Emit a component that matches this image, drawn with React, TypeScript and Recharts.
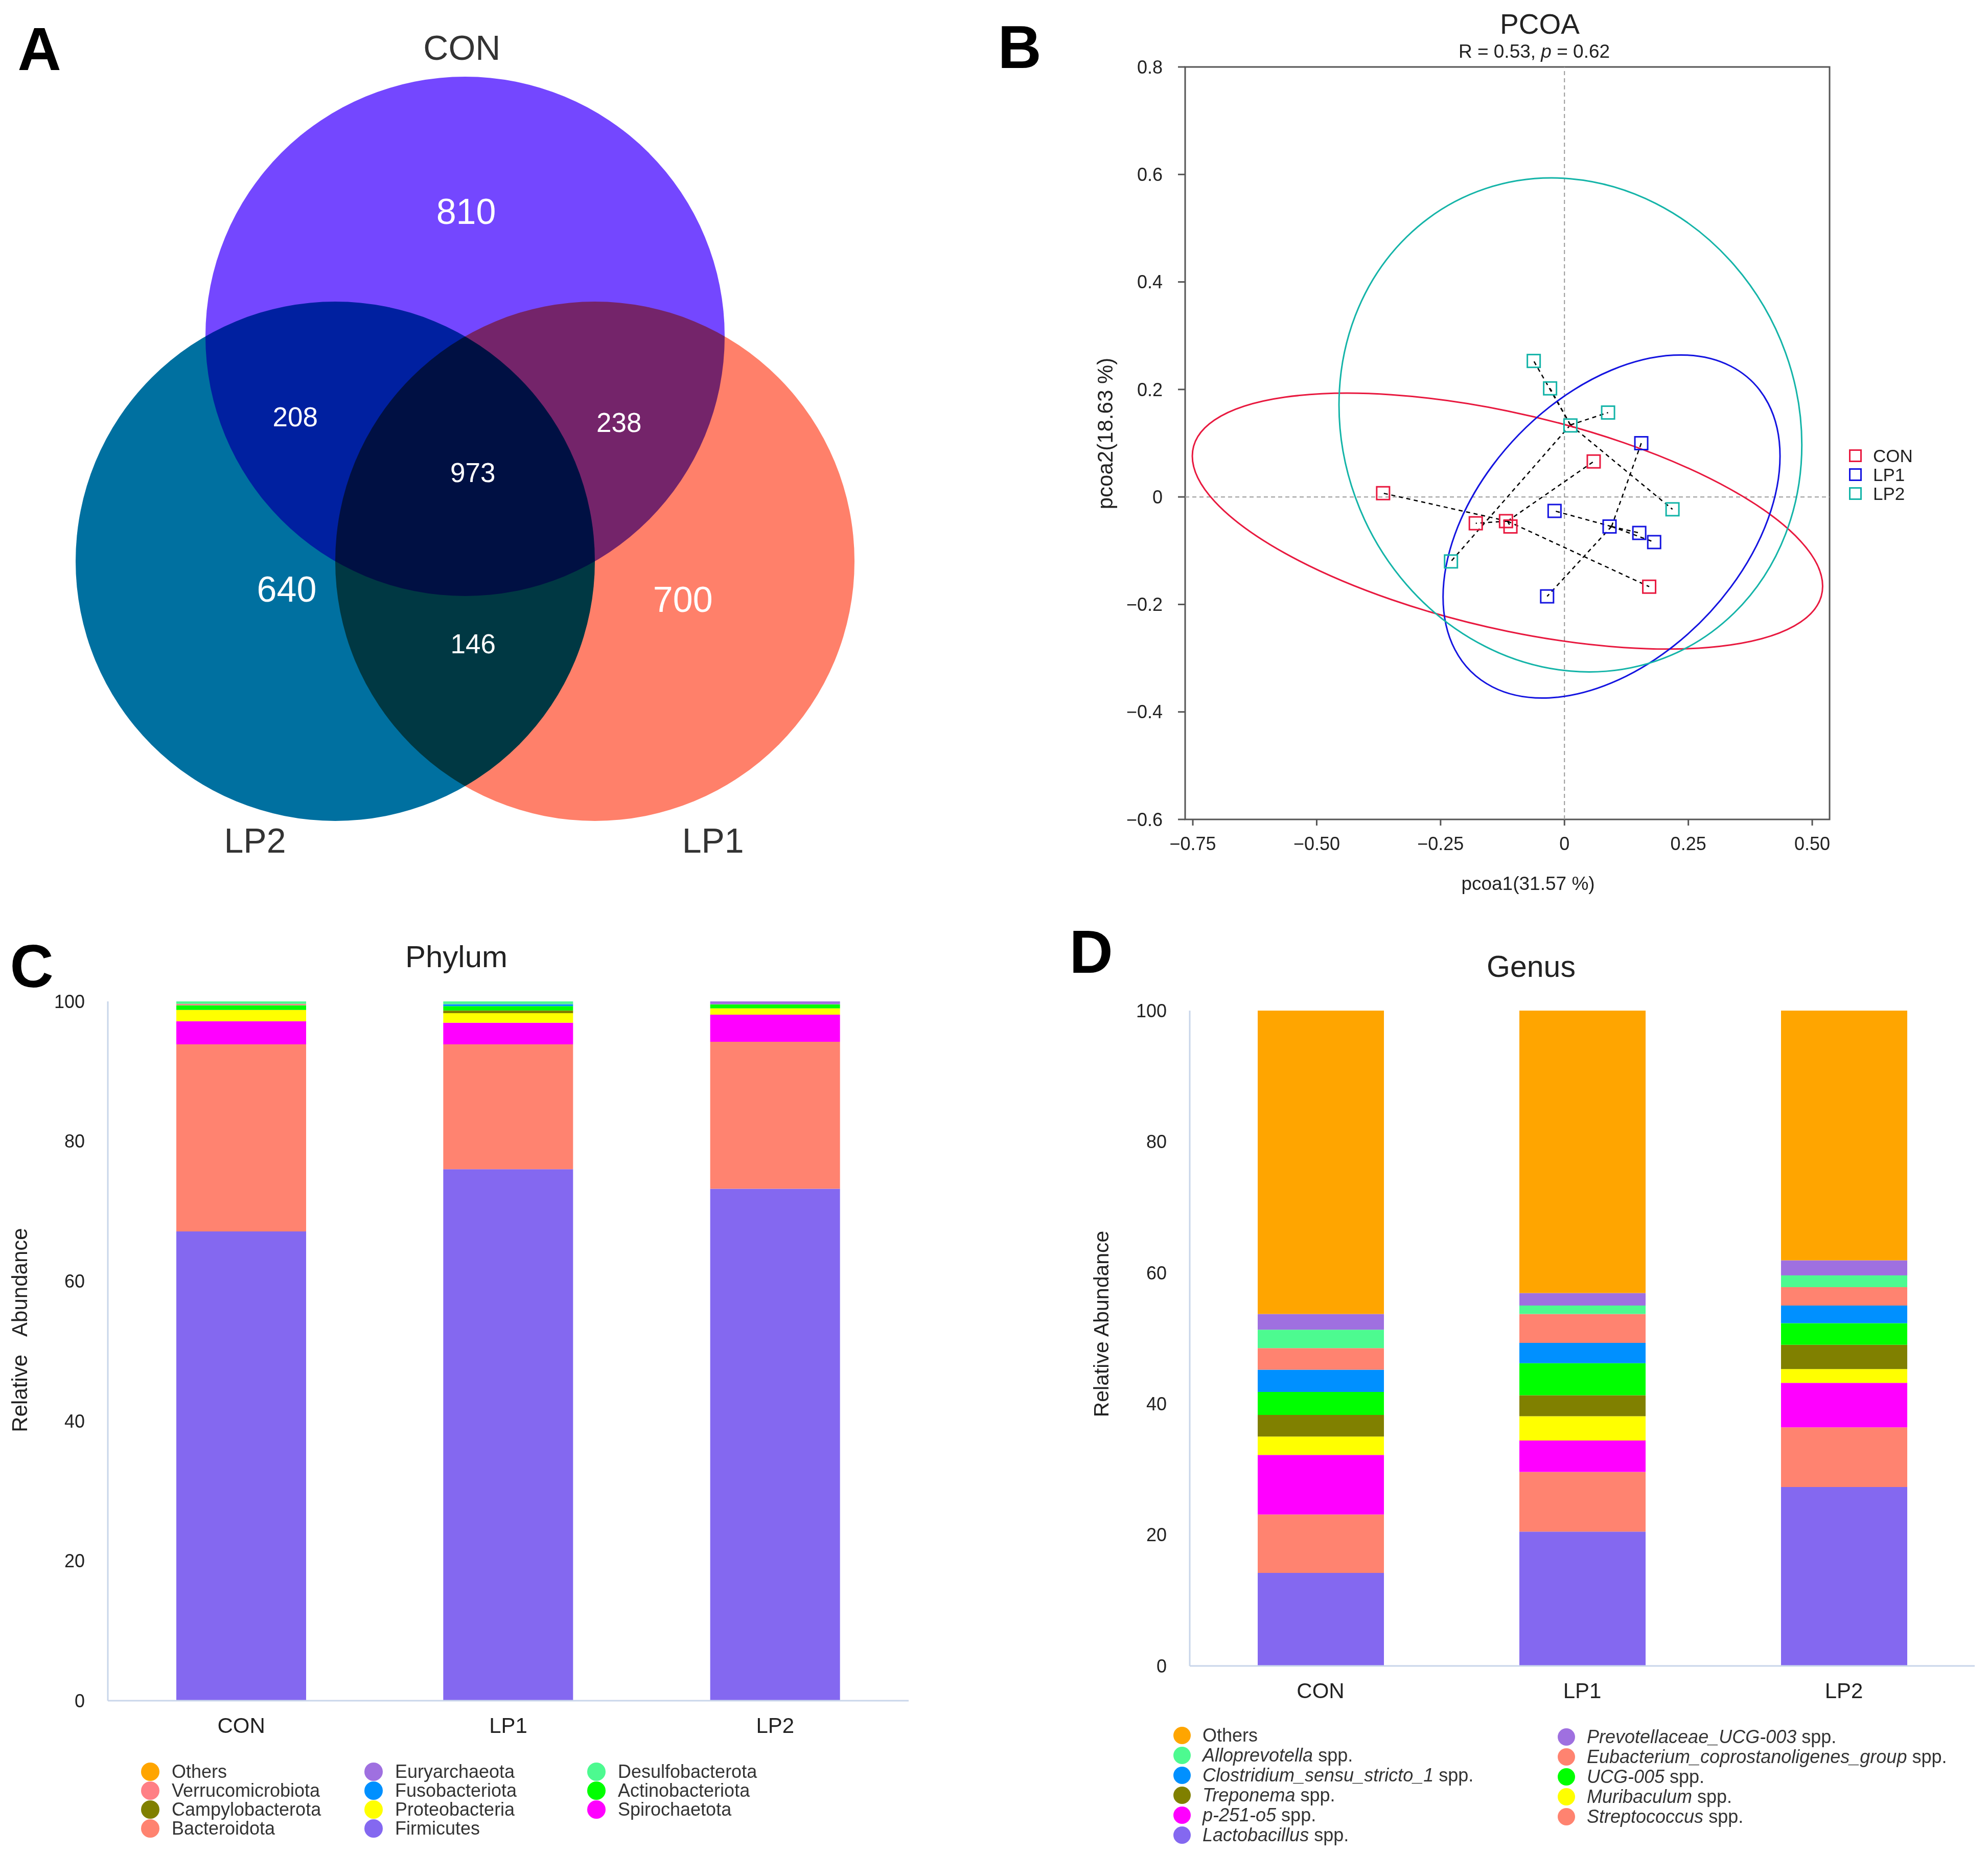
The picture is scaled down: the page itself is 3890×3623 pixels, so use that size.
import React from "react";
import {
  Bar,
  BarChart,
  ReferenceArea,
  ReferenceLine,
  Scatter,
  ScatterChart,
  XAxis,
  YAxis,
} from "recharts";

const FONT = '"Liberation Sans", Arial, Helvetica, sans-serif';

// ---------- A: Venn (units: circle radius = 1)
const vennSets = ["CON", "LP1", "LP2"];
const vennColors = ["#7447ff", "#ff806a", "#0070a0"];
const vennCenterX = [0, 0.5, -0.5];
const vennCenterY = [0.866, 0, 0];
const VENN_R = 1;
const vennOnly = [810, 700, 640];
const vennOnlyX = [0.004, 0.839, -0.687];
const vennOnlyY = [1.348, -0.146, -0.106];
// CON&LP1, CON&LP2, LP1&LP2, all three
const vennShared = [238, 208, 146, 973];
const vennSharedX = [0.593, -0.654, 0.031, 0.03];
const vennSharedY = [0.535, 0.557, -0.317, 0.343];
const vennNameX = [-0.012, 0.955, -0.809];
const vennNameY = [1.98, -1.073, -1.073];

// ---------- B: PCoA
const pcoaGroups = ["CON", "LP1", "LP2"];
const pcoaColors = ["#e8193f", "#1414e0", "#14b4a8"];
const conPts = [[-0.366, 0.007], [-0.179, -0.049], [-0.118, -0.045], [-0.109, -0.055], [0.059, 0.066], [0.171, -0.167]];
const lp1Pts = [[0.155, 0.1], [-0.02, -0.026], [0.091, -0.055], [0.151, -0.067], [0.181, -0.084], [-0.035, -0.185]];
const lp2Pts = [[-0.062, 0.253], [-0.029, 0.202], [0.088, 0.157], [0.012, 0.133], [0.218, -0.023], [-0.229, -0.12]];
const pcoaPts = [conPts, lp1Pts, lp2Pts];
// confidence ellipses: centre, rightmost point, point straight above the centre
const ellipseCenter = [[-0.115, -0.045], [0.095, -0.055], [0.012, 0.134]];
const ellipseRight = [[0.521, -0.166], [0.435, 0.076], [0.479, 0.097]];
const ellipseTop = [0.16, 0.236, 0.592];
const pcoaXTicks = [-0.75, -0.5, -0.25, 0, 0.25, 0.5];
const pcoaYTicks = [-0.6, -0.4, -0.2, 0, 0.2, 0.4, 0.6, 0.8];

// ---------- C / D: stacked bars
const groups = ["CON", "LP1", "LP2"];
const pctTicks = [0, 20, 40, 60, 80, 100];

// phylum, bottom -> top
const phylumNames = ["Firmicutes", "Bacteroidota", "Spirochaetota", "Proteobacteria", "Campylobacterota", "Actinobacteriota", "Fusobacteriota", "Verrucomicrobiota", "Desulfobacterota", "Euryarchaeota", "Others"];
const phylumColors = ["#8468f0", "#ff8370", "#ff00ff", "#ffff00", "#808000", "#00ff00", "#0090ff", "#ff7f85", "#4dfa90", "#9f70e0", "#ffa500"];
const firmicutes = [67.1, 76.0, 73.2];
const bacteroidota = [26.76, 17.86, 21.03];
const spirochaetota = [3.31, 3.09, 3.87];
const proteobacteria = [1.58, 1.36, 0.9];
const campylobacterota = [0.05, 0.39, 0.02];
const actinobacteriota = [0.63, 0.63, 0.55];
const fusobacteriota = [0.03, 0.27, 0.01];
const verrucomicrobiota = [0.2, 0.02, 0.01];
const desulfobacterota = [0.34, 0.38, 0.01];
const euryarchaeota = [0, 0, 0.4];
const phylumOthers = [0, 0, 0];
const phylumValues = [firmicutes, bacteroidota, spirochaetota, proteobacteria, campylobacterota, actinobacteriota, fusobacteriota, verrucomicrobiota, desulfobacterota, euryarchaeota, phylumOthers];

// genus, bottom -> top
const genusNames = ["Lactobacillus", "Streptococcus", "p-251-o5", "Muribaculum", "Treponema", "UCG-005", "Clostridium_sensu_stricto_1", "Eubacterium_coprostanoligenes_group", "Alloprevotella", "Prevotellaceae_UCG-003", "Others"];
const genusColors = ["#8468f0", "#ff8370", "#ff00ff", "#ffff00", "#808000", "#00ff00", "#0090ff", "#ff8370", "#4dfa90", "#9f70e0", "#ffa500"];
const lactobacillus = [14.2, 20.5, 27.3];
const streptococcus = [8.9, 9.1, 9.1];
const p251o5 = [9.1, 4.8, 6.8];
const muribaculum = [2.8, 3.7, 2.1];
const treponema = [3.3, 3.2, 3.7];
const ucg005 = [3.5, 4.9, 3.3];
const clostridium = [3.4, 3.1, 2.7];
const eubacterium = [3.3, 4.4, 2.8];
const alloprevotella = [2.8, 1.3, 1.8];
const prevotellaceae = [2.4, 1.9, 2.3];
const genusOthers = [46.3, 43.1, 38.1];
const genusValues = [lactobacillus, streptococcus, p251o5, muribaculum, treponema, ucg005, clostridium, eubacterium, alloprevotella, prevotellaceae, genusOthers];

const buildRows = (prefix: string, values: number[][]) =>
  groups.map((g, gi) => {
    const row: Record<string, any> = { group: g };
    values.forEach((v, si) => (row[`${prefix}${si}`] = v[gi]));
    return row;
  });
const phylumRows = buildRows("p", phylumValues);
const genusRows = buildRows("g", genusValues);

// ---------- helpers
function T({ x, y, size, bold, italic, rotate, color = "#222", children }: any) {
  return (
    <div
      style={{
        position: "absolute",
        left: x,
        top: y,
        transform: `translate(-50%, -50%)${rotate ? ` rotate(${rotate}deg)` : ""}`,
        fontSize: size,
        fontWeight: bold ? 700 : 400,
        fontStyle: italic ? "italic" : "normal",
        color,
        lineHeight: 1,
        whiteSpace: "pre",
      }}
    >
      {children}
    </div>
  );
}

// draws one ellipse per 3 consecutive points (centre, right, top) via an affine map of a unit circle
const ellipses = (fills: string[], strokes: string[], blend: boolean) => (props: any) => {
  const p = props.points ?? [];
  const items: any[] = [];
  for (let i = 0; i * 3 + 2 < p.length; i++) {
    const c = p[i * 3];
    const r = p[i * 3 + 1];
    const t = p[i * 3 + 2];
    items.push(
      <circle
        key={i}
        cx={0}
        cy={0}
        r={1}
        transform={`matrix(${r.x - c.x} ${r.y - c.y} ${t.x - c.x} ${t.y - c.y} ${c.x} ${c.y})`}
        fill={fills[i]}
        stroke={strokes[i]}
        strokeWidth={3}
        vectorEffect="non-scaling-stroke"
        style={blend ? { mixBlendMode: "multiply" } : undefined}
      />
    );
  }
  return <g>{items}</g>;
};

const noShape = () => <g />;

const textShape = (size: number, color: string) => (p: any) => (
  <text x={p.cx} y={p.cy} dy="0.36em" textAnchor="middle" fontSize={size} fill={color} fontFamily={FONT}>
    {p.payload.label}
  </text>
);

const squareShape = (color: string) => (p: any) => (
  <rect x={p.cx - 12.5} y={p.cy - 12.5} width={25} height={25} fill="none" stroke={color} strokeWidth={3} />
);

const fmtSigned = (v: number, d: number) => (v === 0 ? "0" : `${v < 0 ? "\u2212" : ""}${Math.abs(v).toFixed(d)}`);

function Venn() {
  const circlePts = vennSets.flatMap((_, i) => [
    { x: vennCenterX[i], y: vennCenterY[i] },
    { x: vennCenterX[i] + VENN_R, y: vennCenterY[i] },
    { x: vennCenterX[i], y: vennCenterY[i] + VENN_R },
  ]);
  const only = vennOnly.map((v, i) => ({ x: vennOnlyX[i], y: vennOnlyY[i], label: String(v) }));
  const shared = vennShared.map((v, i) => ({ x: vennSharedX[i], y: vennSharedY[i], label: String(v) }));
  const names = vennSets.map((s, i) => ({ x: vennNameX[i], y: vennNameY[i], label: s }));
  return (
    <div style={{ position: "absolute", left: 0, top: 0 }}>
      <ScatterChart width={1820} height={1750} margin={{ top: 0, right: 0, bottom: 0, left: 0 }}>
        <XAxis type="number" dataKey="x" domain={[-1.7913, 1.7913]} hide />
        <YAxis type="number" dataKey="y" domain={[-1.2835, 2.1614]} hide />
        <Scatter
          data={circlePts}
          shape={noShape}
          line={ellipses(vennColors, ["none", "none", "none"], true)}
          isAnimationActive={false}
        />
        <Scatter data={only} shape={textShape(70, "#fff")} isAnimationActive={false} />
        <Scatter data={shared} shape={textShape(53, "#fff")} isAnimationActive={false} />
        <Scatter data={names} shape={textShape(68, "#333")} isAnimationActive={false} />
      </ScatterChart>
    </div>
  );
}

function Pcoa() {
  const axisTick = { fontSize: 36, fill: "#222" };
  return (
    <div style={{ position: "absolute", left: 2100, top: 0 }}>
      <ScatterChart width={1790} height={1800} margin={{ top: 131, right: 310, bottom: 77, left: 0 }}>
        <XAxis
          type="number"
          dataKey="x"
          domain={[-0.7655, 0.535]}
          allowDataOverflow
          ticks={pcoaXTicks}
          interval={0}
          tickFormatter={(v: number) => fmtSigned(v, 2)}
          axisLine={false}
          tickLine={{ stroke: "#555", strokeWidth: 3 }}
          tickSize={12}
          tickMargin={22}
          height={120}
          tick={axisTick}
        />
        <YAxis
          type="number"
          dataKey="y"
          domain={[-0.6, 0.8]}
          allowDataOverflow
          ticks={pcoaYTicks}
          interval={0}
          tickFormatter={(v: number) => fmtSigned(v, 1)}
          axisLine={false}
          tickLine={{ stroke: "#555", strokeWidth: 3 }}
          tickSize={14}
          tickMargin={30}
          width={219}
          tick={axisTick}
        />
        <ReferenceArea x1={-0.7655} x2={0.535} y1={-0.6} y2={0.8} fill="none" fillOpacity={0} stroke="#555" strokeWidth={3} />
        <ReferenceLine x={0} stroke="#999" strokeWidth={2} strokeDasharray="8 6" />
        <ReferenceLine y={0} stroke="#999" strokeWidth={2} strokeDasharray="8 6" />
        {pcoaPts.map((pts, gi) =>
          pts.map((pt, i) => (
            <ReferenceLine
              key={`s${gi}-${i}`}
              segment={[
                { x: ellipseCenter[gi][0], y: ellipseCenter[gi][1] },
                { x: pt[0], y: pt[1] },
              ]}
              stroke="#000"
              strokeWidth={2.5}
              strokeDasharray="8 7"
            />
          ))
        )}
        {pcoaGroups.map((g, gi) => (
          <Scatter
            key={`e${g}`}
            data={[
              { x: ellipseCenter[gi][0], y: ellipseCenter[gi][1] },
              { x: ellipseRight[gi][0], y: ellipseRight[gi][1] },
              { x: ellipseCenter[gi][0], y: ellipseTop[gi] },
            ]}
            shape={noShape}
            line={ellipses(["none"], [pcoaColors[gi]], false)}
            isAnimationActive={false}
          />
        ))}
        {pcoaGroups.map((g, gi) => (
          <Scatter
            key={`p${g}`}
            name={g}
            data={pcoaPts[gi].map((p) => ({ x: p[0], y: p[1] }))}
            shape={squareShape(pcoaColors[gi])}
            isAnimationActive={false}
          />
        ))}
      </ScatterChart>
    </div>
  );
}

function StackChart({ left, top, width, height, rows, prefix, colors, yAxisWidth, plotTop, plotBottom, right, barSize }: any) {
  const axisStroke = { stroke: "#c9d6ea", strokeWidth: 3 };
  return (
    <div style={{ position: "absolute", left, top }}>
      <BarChart
        width={width}
        height={height}
        data={rows}
        margin={{ top: plotTop, right, bottom: height - plotBottom - 100, left: 0 }}
      >
        <XAxis
          dataKey="group"
          axisLine={axisStroke}
          tickLine={false}
          tickSize={0}
          tickMargin={33}
          height={100}
          tick={{ fontSize: 42, fill: "#222" }}
        />
        <YAxis
          domain={[0, 100]}
          ticks={pctTicks}
          interval={0}
          axisLine={axisStroke}
          tickLine={false}
          tickSize={0}
          tickMargin={45}
          width={yAxisWidth}
          tick={{ fontSize: 36, fill: "#222" }}
        />
        {colors.map((c: string, i: number) => (
          <Bar key={i} dataKey={`${prefix}${i}`} stackId="a" fill={c} barSize={barSize} isAnimationActive={false} />
        ))}
      </BarChart>
    </div>
  );
}

function Dot({ x, y, r, color, gap, children }: any) {
  return (
    <div style={{ position: "absolute", left: x - r, top: y - r, display: "flex", alignItems: "center", height: 2 * r }}>
      <div style={{ width: 2 * r, height: 2 * r, borderRadius: "50%", background: color, flex: "none" }} />
      <div style={{ marginLeft: gap, fontSize: 36, color: "#333", lineHeight: 1, whiteSpace: "pre" }}>{children}</div>
    </div>
  );
}

export default function App() {
  const phylumLegend = phylumNames.map((n, i) => ({ n, c: phylumColors[i] })).reverse();
  const genusLegend = genusNames.map((n, i) => ({ n, c: genusColors[i] })).reverse();
  const phylumColX = [294, 731, 1167];
  const genusColX = [2313, 3065];
  return (
    <div
      style={{
        position: "absolute",
        left: 0,
        top: 0,
        width: 3890,
        height: 3623,
        background: "#fff",
        fontFamily: FONT,
        overflow: "hidden",
      }}
    >
      <Venn />
      <Pcoa />
      <StackChart
        left={0}
        top={1800}
        width={1900}
        height={1823}
        rows={phylumRows}
        prefix="p"
        colors={phylumColors}
        yAxisWidth={211}
        plotTop={159}
        plotBottom={1527}
        right={122}
        barSize={254}
      />
      <StackChart
        left={2100}
        top={1800}
        width={1790}
        height={1823}
        rows={genusRows}
        prefix="g"
        colors={genusColors}
        yAxisWidth={228}
        plotTop={177}
        plotBottom={1459}
        right={26}
        barSize={247}
      />

      {/* panel letters */}
      <T x={77} y={96} size={118} bold color="#000">A</T>
      <T x={1995} y={92} size={118} bold color="#000">B</T>
      <T x={62} y={1890} size={118} bold color="#000">C</T>
      <T x={2135} y={1862} size={118} bold color="#000">D</T>

      {/* B texts */}
      <T x={3013} y={47} size={55}>PCOA</T>
      <T x={3002} y={100} size={37}>
        R = 0.53, <i>p</i> = 0.62
      </T>
      <T x={2990} y={1728} size={37}>pcoa1(31.57 %)</T>
      <T x={2163} y={848} size={42} rotate={-90}>pcoa2(18.63 %)</T>
      {pcoaGroups.map((g, i) => (
        <div key={g} style={{ position: "absolute", left: 3618, top: 891 + i * 37 - 12.5, display: "flex", alignItems: "center", height: 25 }}>
          <div style={{ width: 19, height: 19, border: `3px solid ${pcoaColors[i]}`, flex: "none" }} />
          <div style={{ marginLeft: 22, fontSize: 35, color: "#222", lineHeight: 1 }}>{g}</div>
        </div>
      ))}

      {/* C texts */}
      <T x={893} y={1872} size={60}>Phylum</T>
      <T x={39} y={2602} size={42} rotate={-90}>{"Relative\u00a0\u00a0\u00a0Abundance"}</T>
      {phylumLegend.map((it, i) => (
        <Dot key={it.n} x={phylumColX[i % 3]} y={3466 + Math.floor(i / 3) * 37} r={18} gap={24} color={it.c}>
          {it.n}
        </Dot>
      ))}

      {/* D texts */}
      <T x={2996} y={1891} size={59}>Genus</T>
      <T x={2155} y={2590} size={41} rotate={-90}>Relative Abundance</T>
      {genusLegend.map((it, i) => (
        <Dot key={it.n} x={genusColX[i % 2]} y={3395 + Math.floor(i / 2) * 39 + (i % 2) * 3} r={17} gap={23} color={it.c}>
          {it.n === "Others" ? "Others" : (
            <>
              <i>{it.n}</i> spp.
            </>
          )}
        </Dot>
      ))}
    </div>
  );
}
